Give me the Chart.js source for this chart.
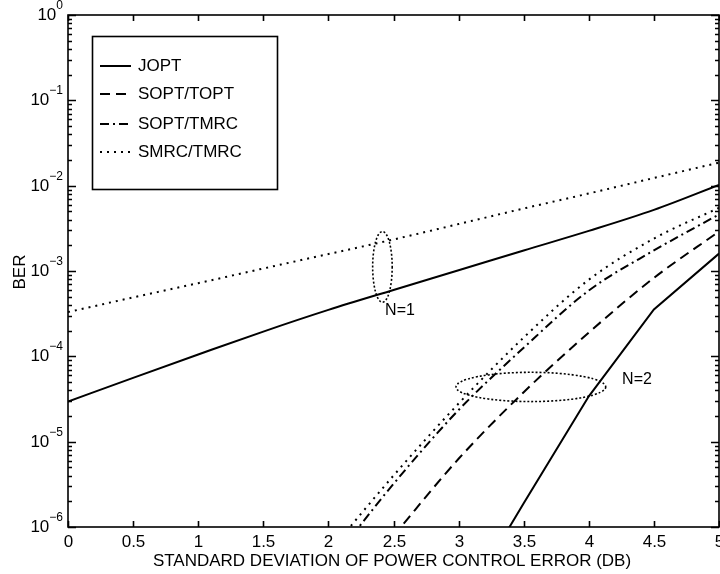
<!DOCTYPE html>
<html>
<head>
<meta charset="utf-8">
<script src="https://cdn.jsdelivr.net/npm/chart.js@4"></script>
<style>
    html, body { margin: 0; padding: 0; background: #fff; }
    canvas { display: block; }
</style>
</head>
<body>
<canvas id="plot_ber" width="720" height="574"></canvas>
<script>
// N=1 curves, sigma 0..5 dB
const xN1 = [0, 0.5, 1, 1.5, 2, 2.5, 3, 3.5, 4, 4.5, 5];
const joptN1 = [2.95e-5, 5.6e-5, 1.05e-4, 1.95e-4, 3.5e-4, 6.0e-4, 1.02e-3, 1.74e-3, 2.95e-3, 5.2e-3, 1.02e-2];
const smrcTmrcN1 = [3.3e-4, 4.9e-4, 7.2e-4, 1.07e-3, 1.58e-3, 2.34e-3, 3.55e-3, 5.4e-3, 8.1e-3, 1.23e-2, 1.86e-2];

// N=2 curves
const xN2 = [2, 2.5, 3, 3.5, 4, 4.5, 5];
const joptN2 = [null, null, 1e-7, 1.9e-6, 3.4e-5, 3.55e-4, 1.6e-3];
const soptToptN2 = [null, 7.9e-7, 6.3e-6, 3.8e-5, 1.9e-4, 8.3e-4, 2.9e-3];
const soptTmrcN2 = [3.5e-7, 3.2e-6, 2.35e-5, 1.26e-4, 5.9e-4, 1.74e-3, 4.6e-3];
const smrcTmrcN2 = [5.0e-7, 4.0e-6, 2.8e-5, 1.66e-4, 7.9e-4, 2.4e-3, 5.5e-3];

const legendNames = ['JOPT', 'SOPT/TOPT', 'SOPT/TMRC', 'SMRC/TMRC'];
const xTicks = [0, 0.5, 1, 1.5, 2, 2.5, 3, 3.5, 4, 4.5, 5];
const yExponents = [0, -1, -2, -3, -4, -5, -6];

// group marks (ellipses) and their labels
const groupLabels = ['N=1', 'N=2'];
const groupXRange = [[2.34, 2.49], [2.98, 4.13]];
const groupYRange = [[4.3e-4, 2.9e-3], [2.95e-5, 6.5e-5]];
const groupLabelX = [2.55, 4.37];
const groupLabelY = [3.4e-4, 5.4e-5];

const FONT = '"Liberation Sans", Arial, Helvetica, sans-serif';

// line style per legend entry
const styles = [
    {dash: []},
    {dash: [10, 6]},
    {dash: [9, 4, 2, 4]},
    {dash: [2, 5]}
];

function pts(xs, ys) {
    let out = [];
    for (let i = 0; i < xs.length; i++) {
        if (ys[i] !== null) out.push({x: xs[i], y: ys[i]});
    }
    return out;
}

function line(label, data, st, smooth) {
    return {
        label: label,
        data: data,
        borderColor: '#000',
        borderWidth: 2,
        borderDash: st.dash,
        pointRadius: 0,
        fill: false,
        cubicInterpolationMode: smooth ? 'monotone' : 'default',
        tension: 0
    };
}

const framePlugin = {
    id: 'frame',
    afterDraw(chart) {
        let ctx = chart.ctx;
        let a = chart.chartArea;
        let xs = chart.scales.x;
        let ys = chart.scales.y;
        ctx.save();
        ctx.strokeStyle = '#000';
        ctx.fillStyle = '#000';
        ctx.setLineDash([]);
        ctx.lineWidth = 1.6;
        ctx.strokeRect(a.left, a.top, a.right - a.left, a.bottom - a.top);

        // x ticks, inward on bottom and top
        ctx.font = '17px ' + FONT;
        ctx.textAlign = 'center';
        ctx.textBaseline = 'middle';
        xTicks.forEach(v => {
            let px = Math.round(xs.getPixelForValue(v)) + 0.5;
            ctx.beginPath();
            ctx.moveTo(px, a.bottom); ctx.lineTo(px, a.bottom - 6);
            ctx.moveTo(px, a.top); ctx.lineTo(px, a.top + 6);
            ctx.stroke();
            ctx.fillText(String(v), px, a.bottom + 15);
        });

        // y ticks (log), major + minor, left and right
        ctx.lineWidth = 1.3;
        yExponents.forEach(e => {
            let py = Math.round(ys.getPixelForValue(Math.pow(10, e))) + 0.5;
            ctx.beginPath();
            ctx.moveTo(a.left, py); ctx.lineTo(a.left + 8, py);
            ctx.moveTo(a.right, py); ctx.lineTo(a.right - 8, py);
            ctx.stroke();
            if (e > -6) {
                for (let m = 2; m <= 9; m++) {
                    let pm = Math.round(ys.getPixelForValue(m * Math.pow(10, e - 1))) + 0.5;
                    ctx.beginPath();
                    ctx.moveTo(a.left, pm); ctx.lineTo(a.left + 4, pm);
                    ctx.moveTo(a.right, pm); ctx.lineTo(a.right - 4, pm);
                    ctx.stroke();
                }
            }
            // label 10^e
            let sup = String(e).replace('-', '\u2212');
            ctx.font = '12px ' + FONT;
            let sw = ctx.measureText(sup).width;
            ctx.font = '17px ' + FONT;
            let bw = ctx.measureText('10').width;
            let right = a.left - 5;
            ctx.textAlign = 'left';
            ctx.fillText('10', right - sw - bw, py);
            ctx.font = '12px ' + FONT;
            ctx.fillText(sup, right - sw, py - 10);
        });

        // axis titles
        ctx.font = '17px ' + FONT;
        ctx.textAlign = 'center';
        ctx.fillText('STANDARD DEVIATION OF POWER CONTROL ERROR (DB)', 392, 561);
        ctx.save();
        ctx.translate(20, 272);
        ctx.rotate(-Math.PI / 2);
        ctx.fillText('BER', 0, 0);
        ctx.restore();

        // group ellipses and labels
        ctx.lineWidth = 1.6;
        ctx.setLineDash([2, 2]);
        for (let i = 0; i < groupLabels.length; i++) {
            let x0 = xs.getPixelForValue(groupXRange[i][0]);
            let x1 = xs.getPixelForValue(groupXRange[i][1]);
            let y0 = ys.getPixelForValue(groupYRange[i][0]);
            let y1 = ys.getPixelForValue(groupYRange[i][1]);
            ctx.beginPath();
            ctx.ellipse((x0 + x1) / 2, (y0 + y1) / 2, Math.abs(x1 - x0) / 2, Math.abs(y1 - y0) / 2, 0, 0, 2 * Math.PI);
            ctx.stroke();
        }
        ctx.setLineDash([]);
        ctx.font = '16px ' + FONT;
        for (let i = 0; i < groupLabels.length; i++) {
            ctx.fillText(groupLabels[i], xs.getPixelForValue(groupLabelX[i]), ys.getPixelForValue(groupLabelY[i]));
        }

        // legend box
        ctx.fillStyle = '#fff';
        ctx.fillRect(92, 36, 185, 153);
        ctx.fillStyle = '#000';
        ctx.lineWidth = 1.6;
        ctx.strokeRect(92.5, 36.5, 185, 153);
        ctx.font = '17px ' + FONT;
        ctx.textAlign = 'left';
        let rows = [66, 94, 124, 152];
        legendNames.forEach((name, i) => {
            ctx.lineWidth = 2;
            ctx.setLineDash(styles[i].dash);
            ctx.beginPath();
            ctx.moveTo(100, rows[i]);
            ctx.lineTo(131, rows[i]);
            ctx.stroke();
            ctx.setLineDash([]);
            ctx.fillText(name, 138, rows[i]);
        });
        ctx.restore();
    }
};

window.onload = function() {
    let ctx = document.getElementById('plot_ber').getContext('2d');
    let plot_ber = new Chart(ctx, {
        type: 'scatter',
        data: {
            datasets: [
                line('JOPT', pts(xN1, joptN1), styles[0], true),
                line('SMRC/TMRC', pts(xN1, smrcTmrcN1), styles[3], true),
                line('JOPT', pts(xN2, joptN2), styles[0], false),
                line('SOPT/TOPT', pts(xN2, soptToptN2), styles[1], true),
                line('SOPT/TMRC', pts(xN2, soptTmrcN2), styles[2], true),
                line('SMRC/TMRC', pts(xN2, smrcTmrcN2), styles[3], true)
            ]
        },
        options: {
            responsive: false,
            animation: false,
            showLine: true,
            devicePixelRatio: 1,
            layout: {
                padding: {left: 68, top: 15, right: 1, bottom: 47}
            },
            plugins: {
                legend: {display: false},
                tooltip: {enabled: false}
            },
            scales: {
                x: {
                    type: 'linear',
                    min: 0,
                    max: 5,
                    display: false
                },
                y: {
                    type: 'logarithmic',
                    min: 1e-6,
                    max: 1,
                    display: false
                }
            }
        },
        plugins: [framePlugin]
    });
}
</script>
</body>
</html>
